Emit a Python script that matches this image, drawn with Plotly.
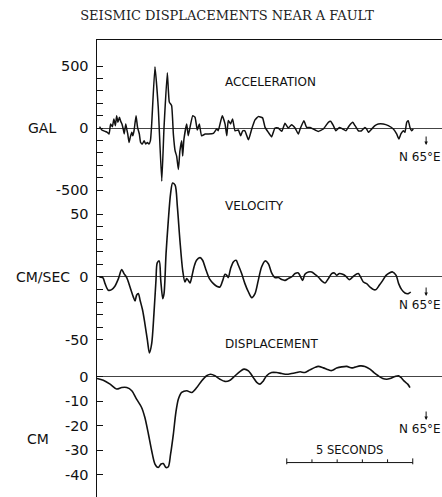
import plotly.graph_objects as go

# ---------------- data ----------------
# Acceleration, GAL, vs time in seconds
accel_t = [0.10, 0.19, 0.32, 0.41, 0.48, 0.54, 0.61, 0.67, 0.73, 0.78, 0.83, 0.89, 0.94, 0.99,
           1.04, 1.08, 1.14, 1.18, 1.22, 1.27, 1.32, 1.38, 1.42, 1.47, 1.55, 1.61, 1.68, 1.73,
           1.80, 1.87, 1.93, 2.00, 2.06, 2.12, 2.17, 2.30, 2.43, 2.57, 2.66, 2.79, 2.87, 2.96,
           3.03, 3.10, 3.16, 3.23, 3.29, 3.36, 3.40, 3.45, 3.56, 3.62, 3.69, 3.80, 3.89, 3.98,
           4.06, 4.15, 4.29, 4.42, 4.62, 4.75, 4.81, 4.97, 5.08, 5.15, 5.21, 5.30, 5.38, 5.48,
           5.61, 5.70, 5.78, 5.87, 6.01, 6.14, 6.27, 6.40, 6.57, 6.67, 6.80, 6.93, 7.06, 7.19,
           7.33, 7.46, 7.59, 7.72, 7.86, 7.99, 8.06, 8.21, 8.32, 8.45, 8.58, 8.78, 8.98, 9.18,
           9.27, 9.38, 9.48, 9.62, 9.75, 9.88, 10.01, 10.15, 10.24, 10.37, 10.50, 10.63, 10.70,
           10.77, 10.90, 11.03, 11.16, 11.36, 11.56, 11.76, 11.89, 11.98, 12.06, 12.16, 12.22,
           12.29, 12.35, 12.42, 12.49, 12.55]
accel_v = [11, -16, -27, -35, -48, 32, 11, 73, 19, 99, 46, 86, 54, 32,
           -8, -48, 32, -8, -48, -116, -75, -35, -62, -22, 99, 5, -48, -116,
           -129, -102, -129, -116, -129, -102, 30, 494, 168, -429, 5, 446, 209, 182,
           -49, -185, -226, -334, -185, -103, -226, -90, 33, -62, 5, 100, 87, -16,
           33, -62, -49, -49, -43, -8, -22, 100, 33, -62, 60, 33, 73, -22,
           -16, -62, -22, -22, -95, -8, 65, 92, 82, 5, -35, -71, 0, 0,
           -27, 38, 0, 27, 0, -49, -8, 59, 5, 5, -8, -27, -8, 46,
           54, 19, -22, 5, -8, -22, 19, 46, 19, -22, -22, 5, -8,
           -35, -8, 19, 32, 32, 19, -8, -48, -89, -48, -22, -35,
           46, 59, 5, -22, -8]

# Velocity, CM/SEC
vel_t = [0.09, 0.23, 0.32, 0.45, 0.58, 0.71, 0.85, 0.98, 1.07, 1.18, 1.31, 1.44, 1.51, 1.57,
         1.64, 1.71, 1.81, 1.90, 2.00, 2.08, 2.17, 2.26, 2.34, 2.39, 2.47, 2.53, 2.61, 2.66,
         2.74, 2.83, 2.92, 3.00, 3.10, 3.19, 3.29, 3.40, 3.49, 3.56, 3.62, 3.69, 3.76, 3.85,
         3.95, 4.09, 4.19, 4.33, 4.46, 4.62, 4.75, 4.88, 4.99, 5.08, 5.15, 5.21, 5.30, 5.41,
         5.52, 5.61, 5.74, 5.87, 6.01, 6.14, 6.27, 6.40, 6.53, 6.67, 6.80, 6.93, 7.06, 7.20,
         7.33, 7.46, 7.59, 7.72, 7.86, 7.99, 8.08, 8.16, 8.25, 8.39, 8.52, 8.65, 8.78, 8.92,
         9.05, 9.18, 9.31, 9.42, 9.51, 9.62, 9.75, 9.88, 10.01, 10.15, 10.28, 10.37, 10.46,
         10.57, 10.70, 10.83, 10.97, 11.07, 11.20, 11.34, 11.47, 11.60, 11.73, 11.87, 11.97,
         12.09, 12.22, 12.35, 12.45]
vel_v = [0, -0.5, -5.3, -10.6, -10.1, -7.4, -1.3, 5.9, 2.7, -0.5, -8.0, -15.9, -19.2, -14.6,
         -13.3, -18.6, -26.6, -37.2, -50.5, -60.6, -53.2, -29.3, -2.7, 11.2, 12.8, -2.7, -17.3, -13.3,
         18.6, 45.2, 66.5, 75.0, 73.2, 55.9, 29.3, 5.3, -4.0, -1.3, -2.7, -4.8, 0, 8.0,
         13.3, 15.4, 13.3, 5.3, -1.3, -5.3, -7.4, -8.0, -2.7, 2.1, 1.3, -0.5, 6.6, 12.0,
         13.3, 9.3, 2.7, -5.3, -12.0, -16.5, -13.3, -2.7, 8.0, 12.8, 10.6, 3.2, -0.5, -0.5,
         -2.1, -2.7, -1.3, 0, 2.7, 3.2, 0, -2.7, 2.1, 4.0, 4.0, 2.1, 0, -3.2,
         -4.8, -1.3, 2.7, 3.2, 1.3, 2.7, 2.1, 0.5, -2.1, 0, 2.1, 2.7, 0,
         -4.0, -5.3, -8.0, -10.1, -10.1, -6.7, -2.7, 1.3, 3.2, 4.0, 1.3, -5.3,
         -10.1, -12.8, -13.3, -12.0]

# Displacement, CM
disp_t = [0.00, 0.25, 0.52, 0.78, 0.98, 1.18, 1.38, 1.57, 1.77, 1.90, 2.04, 2.17, 2.30, 2.43,
          2.54, 2.63, 2.74, 2.83, 2.92, 3.03, 3.13, 3.23, 3.36, 3.56, 3.76, 3.96, 4.15, 4.35,
          4.51, 4.68, 4.88, 5.08, 5.28, 5.48, 5.67, 5.83, 6.01, 6.20, 6.34, 6.47, 6.60, 6.73,
          6.93, 7.13, 7.33, 7.53, 7.72, 7.92, 8.06, 8.25, 8.45, 8.65, 8.78, 8.98, 9.18, 9.31,
          9.51, 9.71, 9.91, 10.11, 10.24, 10.44, 10.63, 10.83, 10.99, 11.16, 11.34, 11.50,
          11.63, 11.83, 11.96, 12.06, 12.18, 12.33, 12.42]
disp_v = [-0.8, -1.5, -3.1, -5.1, -4.5, -4.5, -5.8, -9.2, -12.6, -16.7, -23.4, -30.2, -35.6, -37.0,
          -35.6, -35.4, -37.0, -36.7, -31.6, -23.4, -14.6, -9.2, -6.5, -5.8, -6.5, -4.5, -1.8, 0.3,
          0.9, 0.3, -1.1, -2.0, -1.5, 0.3, 2.0, 3.0, 2.3, -0.4, -2.4, -3.1, -1.8, 0.3,
          1.6, 1.6, 1.2, 0.9, 1.2, 1.6, 1.9, 1.6, 2.7, 3.7, 4.1, 3.5, 2.7, 2.4,
          3.4, 3.9, 4.1, 3.5, 3.8, 4.3, 4.1, 3.0, 1.6, 0.3, -0.8, -1.1,
          -0.8, 0, 0.3, -0.4, -1.8, -3.1, -4.5]

accel_ticks = [500, 400, 300, 200, 100, 0, -100, -200, -300, -400, -500]
accel_labels = ["500", "", "", "", "", "0", "", "", "", "", "-500"]
vel_ticks = [50, 40, 30, 20, 10, 0, -10, -20, -30, -40, -50]
vel_labels = ["50", "", "", "", "", "0", "", "", "", "", "-50"]
disp_ticks = [0, -10, -20, -30, -40]
disp_labels = ["0", "-10", "-20", "-30", "-40"]

panel_names = ["ACCELERATION", "VELOCITY", "DISPLACEMENT"]
unit_names = ["GAL", "CM/SEC", "CM"]
direction = "N 65°E"
title_text = "SEISMIC DISPLACEMENTS NEAR A FAULT"
scale_label = "5 SECONDS"
scale_seconds = 5

# ---------------- figure ----------------
W, H = 442, 497
SANS = "DejaVu Sans"
INK = "#111"

fig = go.Figure()
fig.add_trace(go.Scatter(x=accel_t, y=accel_v, mode="lines", yaxis="y",
                         line=dict(color=INK, width=1.5, shape="spline", smoothing=0.4),
                         hoverinfo="skip", showlegend=False))
fig.add_trace(go.Scatter(x=vel_t, y=vel_v, mode="lines", yaxis="y2",
                         line=dict(color=INK, width=1.6, shape="spline", smoothing=0.8),
                         hoverinfo="skip", showlegend=False))
fig.add_trace(go.Scatter(x=disp_t, y=disp_v, mode="lines", yaxis="y3",
                         line=dict(color=INK, width=1.6, shape="spline", smoothing=0.8),
                         hoverinfo="skip", showlegend=False))

common_y = dict(domain=[0, 1], showline=True, linecolor=INK, linewidth=1.5,
                ticks="inside", ticklen=6, tickwidth=1, tickcolor=INK,
                tickmode="array", showgrid=False, zeroline=True,
                zerolinecolor="#444", zerolinewidth=1,
                tickfont=dict(family=SANS, size=14.5, color=INK),
                ticklabelstandoff=4, fixedrange=True)

fig.update_layout(
    width=W, height=H,
    margin=dict(l=97, r=0, t=40, b=0),
    paper_bgcolor="white", plot_bgcolor="white",
    title=dict(text=title_text, x=227 / W, xanchor="center", xref="container",
               y=1 - 15 / H, yanchor="middle",
               font=dict(family="DejaVu Serif", size=13, color="#222")),
    xaxis=dict(range=[0, 345 / 25.2], side="top", showline=True, linecolor=INK, linewidth=1.5,
               showticklabels=False, ticks="", showgrid=False, zeroline=False, fixedrange=True),
    yaxis=dict(range=[-2976, 710], tickvals=accel_ticks, ticktext=accel_labels, **common_y),
    yaxis2=dict(range=[-175.6, 189.1], tickvals=vel_ticks, ticktext=vel_labels,
                overlaying="y", anchor="x", side="left", **common_y),
    yaxis3=dict(range=[-49.0, 136.8], tickvals=disp_ticks, ticktext=disp_labels,
                overlaying="y", anchor="x", side="left", **common_y),
)

ann = []
# unit labels left of axis
for name, xc, yv, yr in zip(unit_names, [41.5, 43.5, 37.5], [0, 0, -25.4], ["y", "y2", "y3"]):
    ann.append(dict(text=name, x=(xc - 97) / 345, xref="paper", xanchor="center",
                    y=yv, yref=yr, yanchor="middle", showarrow=False,
                    font=dict(family=SANS, size=14, color=INK)))
# panel names
for name, yv, yr in zip(panel_names, [373, 56.7, 13.2], ["y", "y2", "y3"]):
    ann.append(dict(text=name, x=5.0, xref="x", y=yv, yref=yr, xanchor="left",
                    showarrow=False, font=dict(family=SANS, size=12, color=INK)))
# direction labels and arrows
for (ya, yt), yr in zip([(-137, -234), (-15.2, -22.3), (-17.7, -21.3)], ["y", "y2", "y3"]):
    ann.append(dict(text=direction, x=12.83, xref="x", xanchor="center", y=yt, yref=yr,
                    showarrow=False, font=dict(family=SANS, size=12, color=INK)))
    ann.append(dict(text="", x=13.06, xref="x", y=ya, yref=yr, showarrow=True,
                    ax=0, ay=-10, arrowhead=2, arrowsize=0.7, arrowwidth=1, arrowcolor=INK))
# scale bar label
ann.append(dict(text=scale_label, x=7.53 + scale_seconds / 2, xref="x", y=-29.9, yref="y3",
                showarrow=False, font=dict(family=SANS, size=11.5, color=INK)))
fig.update_layout(annotations=ann)

shapes = []
x0 = 7.53
shapes.append(dict(type="line", xref="x", yref="y3", x0=x0, x1=x0 + scale_seconds,
                   y0=-35, y1=-35, line=dict(color=INK, width=1)))
for i in range(scale_seconds + 1):
    if i in (0, scale_seconds):
        y0, y1 = -35.7, -33.3
    else:
        y0, y1 = -35, -33.7
    shapes.append(dict(type="line", xref="x", yref="y3", x0=x0 + i, x1=x0 + i,
                       y0=y0, y1=y1, line=dict(color=INK, width=1)))
fig.update_layout(shapes=shapes)

fig.write_html("out.html",
               config={"displayModeBar": False, "staticPlot": True},
               post_script="document.body.style.margin='0';document.body.style.padding='0';"
                           "document.body.style.overflow='hidden';")
